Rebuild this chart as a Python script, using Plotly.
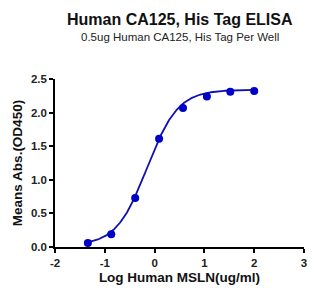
import numpy as np
import plotly.graph_objects as go

# Data
log_conc = [-1.34, -0.87, -0.39, 0.09, 0.57, 1.05, 1.52, 2.0]
od450 = [0.06, 0.19, 0.73, 1.61, 2.07, 2.24, 2.31, 2.32]

# 4PL fit parameters (estimated)
fit_bottom = 0.02
fit_top = 2.34
fit_logec50 = -0.15
fit_hill = 1.4

xs = np.linspace(min(log_conc), max(log_conc), 300)
ys = fit_bottom + (fit_top - fit_bottom) / (1 + 10 ** ((fit_logec50 - xs) * fit_hill))

x_ticks = [-2, -1, 0, 1, 2, 3]
y_ticks = [0.0, 0.5, 1.0, 1.5, 2.0, 2.5]

color = "#0000C8"
font = "Liberation Sans, Arial, sans-serif"

fig = go.Figure()
fig.add_trace(go.Scatter(x=xs, y=ys, mode="lines",
                         line=dict(color="#1010B0", width=1.8),
                         hoverinfo="skip", showlegend=False))
fig.add_trace(go.Scatter(x=log_conc, y=od450, mode="markers",
                         marker=dict(color=color, size=8),
                         showlegend=False))

axis_common = dict(showgrid=False, zeroline=False, showline=True,
                   linecolor="black", linewidth=1.6, ticks="outside",
                   ticklen=4, tickwidth=1.6, tickcolor="black",
                   tickfont=dict(family=font, size=11.5, color="#222"),
                   )
fig.update_xaxes(range=[-2, 3], tickvals=x_ticks,
                 ticktext=[f"<b>{v}</b>" for v in x_ticks],
                 title=dict(text="<b>Log Human MSLN(ug/ml)</b>",
                            font=dict(family=font, size=13.5, color="#111"),
                            standoff=5),
                 **axis_common)
fig.update_yaxes(range=[0, 2.5], tickvals=y_ticks,
                 ticktext=[f"<b>{v:.1f}</b>" for v in y_ticks],
                 title=dict(text="<b>Means Abs.(OD450)</b>",
                            font=dict(family=font, size=13.5, color="#111"),
                            standoff=5),
                 **axis_common)

plot_h = 298 - 79 - 51
fig.update_layout(
    width=327, height=298,
    margin=dict(l=55, r=23, t=79, b=51),
    paper_bgcolor="white", plot_bgcolor="white",
    annotations=[
        dict(text="<b>Human CA125, His Tag ELISA</b>", x=0.5,
             y=1 + (79 - 20) / plot_h,
             xref="paper", yref="paper", showarrow=False,
             font=dict(family=font, size=16, color="#111"), yanchor="middle"),
        dict(text="0.5ug Human CA125, His Tag Per Well", x=0.5,
             y=1 + (79 - 37) / plot_h,
             xref="paper", yref="paper", showarrow=False,
             font=dict(family=font, size=11.5, color="#222"), yanchor="middle"),
    ],
)

fig.write_html("out.html")
